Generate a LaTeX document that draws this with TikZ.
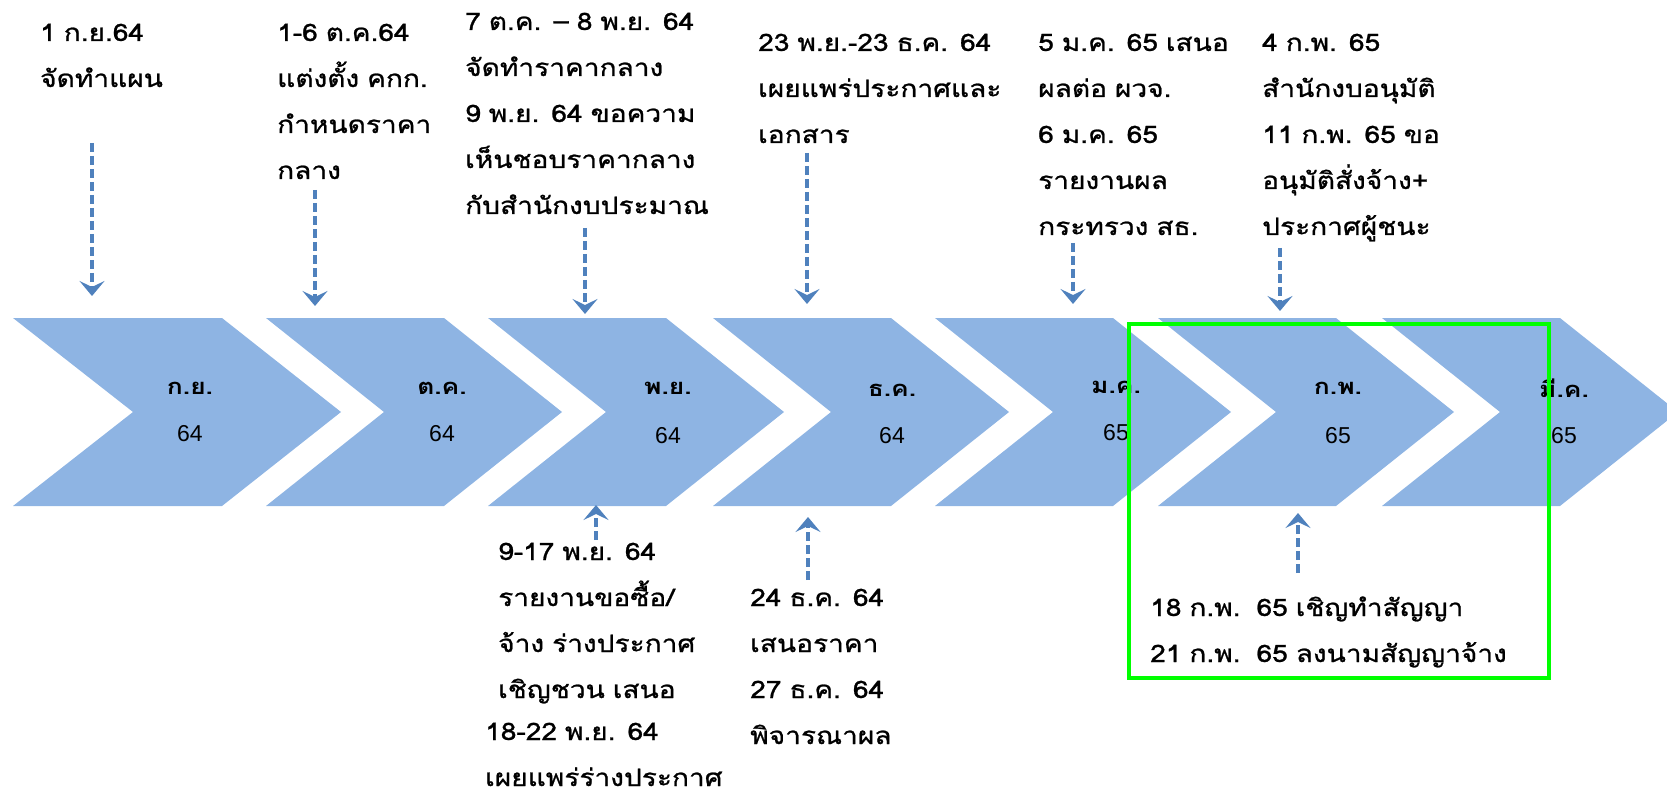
\documentclass[tikz,border=0pt]{standalone}
\usepackage{fontspec}
\setmainfont[Script=Thai,FakeStretch=1.17,FakeBold=1]{Loma}
\newfontfamily\monthfont[Script=Thai,FakeStretch=1.2]{Loma}
\newfontfamily\numfont{Liberation Sans}
\usetikzlibrary{arrows.meta}
\definecolor{chevfill}{RGB}{142,180,227}
\definecolor{arrblue}{RGB}{79,129,189}
\definecolor{boxgreen}{RGB}{0,255,0}
\tikzset{
  evtxt/.style={anchor=base west, inner sep=0pt, text width=400pt, align=left,
    font=\fontsize{24}{46}\selectfont},
  monthlbl/.style={inner sep=0pt, font=\fontsize{22}{24}\selectfont\monthfont\bfseries},
  yearlbl/.style={inner sep=0pt, font=\fontsize{23}{24}\selectfont\numfont},
  darr/.style={draw=arrblue, line width=4.5pt, dash pattern=on 9pt off 4pt,
    -{Stealth[length=15pt,width=25pt,inset=6pt]}},
  frame/.style={draw=boxgreen, line width=4.5pt},
}
\newcommand\mychev[1]{\fill[chevfill,shift={(#1,318)}] (0,0) -- (178,0) -- (296,94) -- (178,188) -- (0,188) -- (118,94) -- cycle;}
\begin{document}
\begin{tikzpicture}[x=1pt,y=-1pt]
\useasboundingbox (0,0) rectangle (1667,794);
\clip (0,0) rectangle (1667,794);
% chevrons
\fill[chevfill] (13,318) -- (222,318) -- (341,412) -- (222,506) -- (13,506) -- (133,412) -- cycle;
\mychev{266}
\mychev{488}
\mychev{713}
\mychev{935}
\mychev{1158}
\mychev{1382}
% chevron labels
\node[monthlbl] (m1) at (190,388) {ก.ย.};
\node[yearlbl]  (y1) at (190,434) {64};
\node[monthlbl] (m2) at (442,388) {ต.ค.};
\node[yearlbl]  (y2) at (442,434) {64};
\node[monthlbl] (m3) at (668,388) {พ.ย.};
\node[yearlbl]  (y3) at (668,436) {64};
\node[monthlbl] (m4) at (892,390) {ธ.ค.};
\node[yearlbl]  (y4) at (892,436) {64};
\node[monthlbl] (m5) at (1116,387) {ม.ค.};
\node[yearlbl]  (y5) at (1116,433) {65};
\node[monthlbl] (m6) at (1338,388) {ก.พ.};
\node[yearlbl]  (y6) at (1338,436) {65};
\node[monthlbl] (m7) at (1564,388) {มี.ค.};
\node[yearlbl]  (y7) at (1564,436) {65};
% top texts
\node[evtxt] (t1) at (40,41) {1 ก.ย.64\\จัดทำแผน};
\node[evtxt] (t2) at (277,41) {1-6 ต.ค.64\\แต่งตั้ง คกก.\\กำหนดราคา\\กลาง};
\node[evtxt] (t3) at (465,30) {7 ต.ค. – 8 พ.ย. 64\\จัดทำราคากลาง\\9 พ.ย. 64 ขอความ\\เห็นชอบราคากลาง\\กับสำนักงบประมาณ};
\node[evtxt] (t4) at (758,51) {23 พ.ย.-23 ธ.ค. 64\\เผยแพร่ประกาศและ\\เอกสาร};
\node[evtxt] (t5) at (1038,51) {5 ม.ค. 65 เสนอ\\ผลต่อ ผวจ.\\6 ม.ค. 65\\รายงานผล\\กระทรวง สธ.};
\node[evtxt] (t6) at (1262,51) {4 ก.พ. 65\\สำนักงบอนุมัติ\\11 ก.พ. 65 ขอ\\อนุมัติสั่งจ้าง+\\ประกาศผู้ชนะ};
% bottom texts
\node[evtxt] (b1) at (498,560) {9-17 พ.ย. 64\\รายงานขอซื้อ/\\จ้าง ร่างประกาศ\\เชิญชวน เสนอ};
\node[evtxt] (b2) at (485,740) {18-22 พ.ย. 64\\เผยแพร่ร่างประกาศ};
\node[evtxt] (b3) at (750,606) {24 ธ.ค. 64\\เสนอราคา\\27 ธ.ค. 64\\พิจารณาผล};
\node[evtxt] (b4) at (1150,616) {18 ก.พ.\ \ 65 เชิญทำสัญญา\\21 ก.พ.\ \ 65 ลงนามสัญญาจ้าง};
% arrow ends
\coordinate (a1s) at (92,143);   \coordinate (a1e) at (92,296);
\coordinate (a2s) at (315,190);  \coordinate (a2e) at (315,306);
\coordinate (a3s) at (585,228);  \coordinate (a3e) at (585,314);
\coordinate (a4s) at (807,153);  \coordinate (a4e) at (807,304);
\coordinate (a5s) at (1073,243); \coordinate (a5e) at (1073,304);
\coordinate (a6s) at (1280,248); \coordinate (a6e) at (1280,311);
\coordinate (a7s) at (596,540);  \coordinate (a7e) at (596,505);
\coordinate (a8s) at (808,580);  \coordinate (a8e) at (808,517);
\coordinate (a9s) at (1298,573); \coordinate (a9e) at (1298,513);
\draw[darr] (a1s) -- (a1e);
\draw[darr] (a2s) -- (a2e);
\draw[darr] (a3s) -- (a3e);
\draw[darr] (a4s) -- (a4e);
\draw[darr] (a5s) -- (a5e);
\draw[darr] (a6s) -- (a6e);
\draw[darr] (a7s) -- (a7e);
\draw[darr] (a8s) -- (a8e);
\draw[darr] (a9s) -- (a9e);
% green frame
\draw[frame] (1129,324) rectangle (1549,678);
\end{tikzpicture}
\end{document}
